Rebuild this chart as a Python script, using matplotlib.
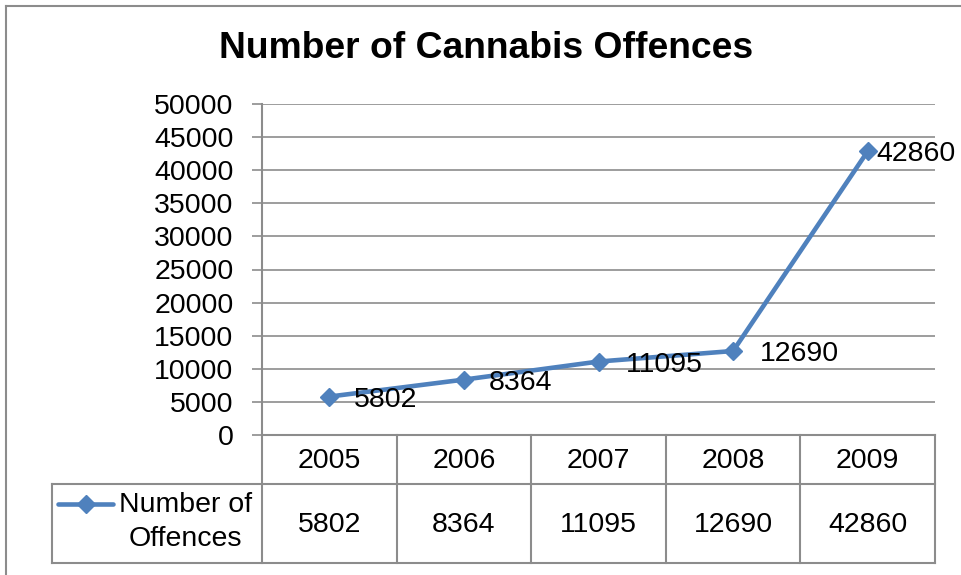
import matplotlib
matplotlib.use("Agg")
import matplotlib.pyplot as plt
from matplotlib.lines import Line2D

plt.rcParams['font.family'] = ['Liberation Sans', 'DejaVu Sans']

# Chart data
years = ["2005", "2006", "2007", "2008", "2009"]
offences = [5802, 8364, 11095, 12690, 42860]
series_name = "Number of\nOffences"
y_ticks = [0, 5000, 10000, 15000, 20000, 25000, 30000, 35000, 40000, 45000, 50000]

# Style
W, H = 961, 575
BLUE = "#4F81BD"
GRID = "#8C8C8C"
FS = 20.5

fig = plt.figure(figsize=(W / 100, H / 100), dpi=100)

def fx(px):
    return px / W

def fy(py):
    return 1 - py / H

# plot area in pixel coordinates
x0, x1 = 262, 935
y_top, y_bot = 104, 435
row1, row2 = 484, 563
leg_left = 52

ax = fig.add_axes([fx(x0), fy(y_bot), fx(x1 - x0), (y_bot - y_top) / H])
xs = list(range(len(years)))
ax.set_xlim(-0.5, len(years) - 0.5)
ax.set_ylim(0, 50000)
ax.set_yticks(y_ticks)
ax.set_yticklabels([str(v) for v in y_ticks], fontsize=FS)
ax.set_xticks([])
ax.tick_params(axis='y', direction='out', length=7.5, width=1.2, color=GRID, pad=13)
ax.yaxis.grid(True, color=GRID, linewidth=1.2)
ax.set_axisbelow(True)
for side in ['top', 'right', 'bottom']:
    ax.spines[side].set_visible(False)
ax.spines['left'].set_color(GRID)
ax.spines['left'].set_linewidth(1.5)

ax.plot(xs, offences, color=BLUE, linewidth=3.3, marker='D', markersize=9.5,
        markerfacecolor=BLUE, markeredgecolor=BLUE, zorder=3, clip_on=False)

label_dx = [25, 25, 27, 27, 9]
for x, v, dx in zip(xs, offences, label_dx):
    ax.annotate(str(v), (x, v), xytext=(dx, 0), textcoords='offset pixels',
                ha='left', va='center_baseline', fontsize=FS, color='black',
                annotation_clip=False, zorder=4)

# chart title
fig.text(fx(486), fy(49), "Number of Cannabis Offences", ha='center', va='center',
         fontsize=26.8, fontweight='bold')

# chart border
fig.add_artist(Line2D([fx(6), fx(6)], [fy(6), 0], color=GRID, linewidth=1.5))
fig.add_artist(Line2D([fx(6), 1], [fy(6), fy(6)], color=GRID, linewidth=1.5))

# data table below the axis
def hline(py, a, b):
    fig.add_artist(Line2D([fx(a), fx(b)], [fy(py), fy(py)], color=GRID, linewidth=1.5))

def vline(px, a, b):
    fig.add_artist(Line2D([fx(px), fx(px)], [fy(a), fy(b)], color=GRID, linewidth=1.5))

hline(y_bot, x0, x1)
hline(row1, leg_left, x1)
hline(row2, leg_left, x1)
vline(leg_left, row1, row2)
vline(x0, y_bot, row2)
col_w = (x1 - x0) / len(years)
for i in range(1, len(years) + 1):
    vline(x0 + i * col_w, y_bot, row2)

for i, (yr, v) in enumerate(zip(years, offences)):
    cx = x0 + (i + 0.5) * col_w
    fig.text(fx(cx), fy((y_bot + row1) / 2 + 1), yr, ha='center', va='center', fontsize=FS)
    fig.text(fx(cx), fy((row1 + row2) / 2 + 1), str(v), ha='center', va='center', fontsize=FS)

# legend key inside the table
fig.add_artist(Line2D([fx(58), fx(113)], [fy(504), fy(504)], color=BLUE, linewidth=3.3,
                      solid_capstyle='round'))
fig.add_artist(Line2D([fx(86)], [fy(504)], marker='D', markersize=9.5, color=BLUE))
fig.text(fx(252), fy(522), series_name, ha='right', va='center', fontsize=FS,
         linespacing=1.35, multialignment='center')

fig.savefig("out.png", dpi=100)
